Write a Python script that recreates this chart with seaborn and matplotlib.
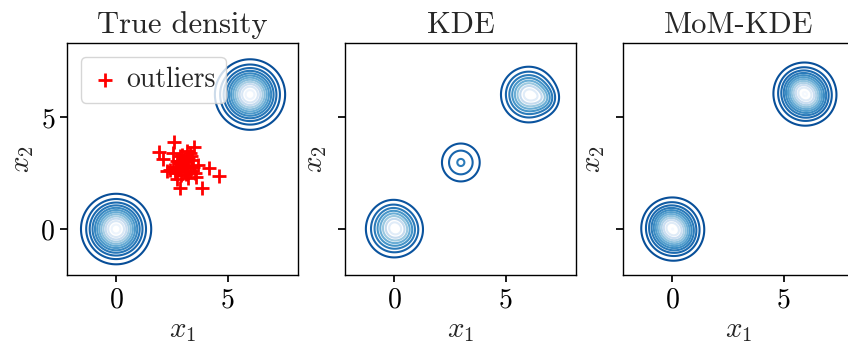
import numpy as np
import matplotlib
matplotlib.use("Agg")
import matplotlib.pyplot as plt
import seaborn as sns
from matplotlib.colors import PowerNorm

# ---- data ----
outlier_x = [2.60, 1.93, 2.11, 3.48, 3.16, 4.14, 4.60, 3.85, 2.86, 2.29, 2.75, 3.60,
             2.56, 2.86, 3.30, 3.38, 2.56, 3.08, 2.78, 3.30, 3.53, 3.67, 2.93, 2.41,
             3.23, 2.71, 3.00, 3.16, 3.45, 2.63, 2.93, 3.10, 2.85, 3.20, 2.70, 3.02,
             3.35, 2.95, 3.12, 2.80]
outlier_y = [3.88, 3.42, 3.14, 3.66, 3.48, 2.72, 2.37, 1.84, 1.84, 2.57, 2.23, 2.32,
             3.39, 3.24, 3.39, 3.09, 2.79, 2.87, 2.65, 2.57, 2.50, 2.87, 2.42, 2.65,
             2.27, 3.02, 3.09, 2.72, 2.79, 2.50, 2.87, 3.00, 2.95, 3.15, 2.75, 2.60,
             3.25, 3.30, 2.45, 3.05]

# density components per panel: centres, spreads, weights
true_cx = [0.0, 6.0]
true_cy = [0.0, 6.0]
true_sd = [0.70, 0.70]
true_w = [0.5, 0.5]

kde_cx = [0.00, 0.45, -0.10, 6.03, 6.75, 2.99]
kde_cy = [0.00, -0.10, 0.55, 6.00, 5.80, 2.97]
kde_sd = [0.62, 0.40, 0.40, 0.60, 0.35, 0.56]
kde_w = [0.25, 0.012, 0.010, 0.25, 0.020, 0.080]

mom_cx = [0.03, -0.35, 0.40, 5.95, 6.35, 5.60]
mom_cy = [0.00, 0.35, -0.40, 6.02, 5.70, 6.35]
mom_sd = [0.64, 0.40, 0.40, 0.64, 0.40, 0.40]
mom_w = [0.37, 0.015, 0.015, 0.37, 0.015, 0.015]

level_step = 0.013
titles = ["True density", "KDE", "MoM-KDE"]

sns.set_theme(style="ticks")
plt.rcParams.update({
    "font.family": ["serif"],
    "font.serif": ["cmr10", "DejaVu Serif"],
    "mathtext.fontset": "cm",
    "axes.formatter.use_mathtext": True,
    "axes.edgecolor": "black",
    "axes.linewidth": 1.0,
    "xtick.color": "black",
    "ytick.color": "black",
    "xtick.major.size": 5,
    "ytick.major.size": 5,
})

W, H = 848, 347
fig = plt.figure(figsize=(W / 100, H / 100), dpi=100)
lefts = [67, 345, 623]
axes = [fig.add_axes([l / W, (H - 275) / H, 231 / W, 232 / H]) for l in lefts]

gx = np.linspace(-2.2, 8.2, 400)
gy = np.linspace(-2.1, 8.35, 400)
X, Y = np.meshgrid(gx, gy)


def mixture(cx, cy, sd, w):
    Z = np.zeros_like(X)
    for a, b, s, ww in zip(cx, cy, sd, w):
        Z += ww / (2 * np.pi * s * s) * np.exp(-((X - a) ** 2 + (Y - b) ** 2) / (2 * s * s))
    return Z


dens = [mixture(true_cx, true_cy, true_sd, true_w),
        mixture(kde_cx, kde_cy, kde_sd, kde_w),
        mixture(mom_cx, mom_cy, mom_sd, mom_w)]

for i, (ax, Z) in enumerate(zip(axes, dens)):
    levels = np.arange(level_step, Z.max(), level_step)
    vmax = Z.max()
    ax.contour(X, Y, Z, levels=levels, cmap="Blues_r",
               norm=PowerNorm(gamma=1.75, vmin=-0.3 * vmax, vmax=vmax),
               linewidths=1.5)
    ax.set_xlim(-2.2, 8.15)
    ax.set_ylim(-2.05, 8.3)
    ax.set_xticks([0, 5])
    ax.set_yticks([0, 5])
    ax.set_title(titles[i], fontsize=22, pad=7)
    ax.set_xlabel("$x_1$", fontsize=21, labelpad=3)
    ax.set_ylabel("$x_2$", fontsize=21, labelpad=3)
    ax.tick_params(labelsize=20)
    if i > 0:
        ax.set_yticklabels([])

sns.scatterplot(x=outlier_x, y=outlier_y, marker="+", color="red", s=90,
                linewidth=2.0, ax=axes[0], label="outliers")
axes[0].legend(loc="upper left", fontsize=20, handletextpad=0.3,
               borderpad=0.35, handlelength=1.0, framealpha=0.8)

fig.savefig("out.png", dpi=100)
